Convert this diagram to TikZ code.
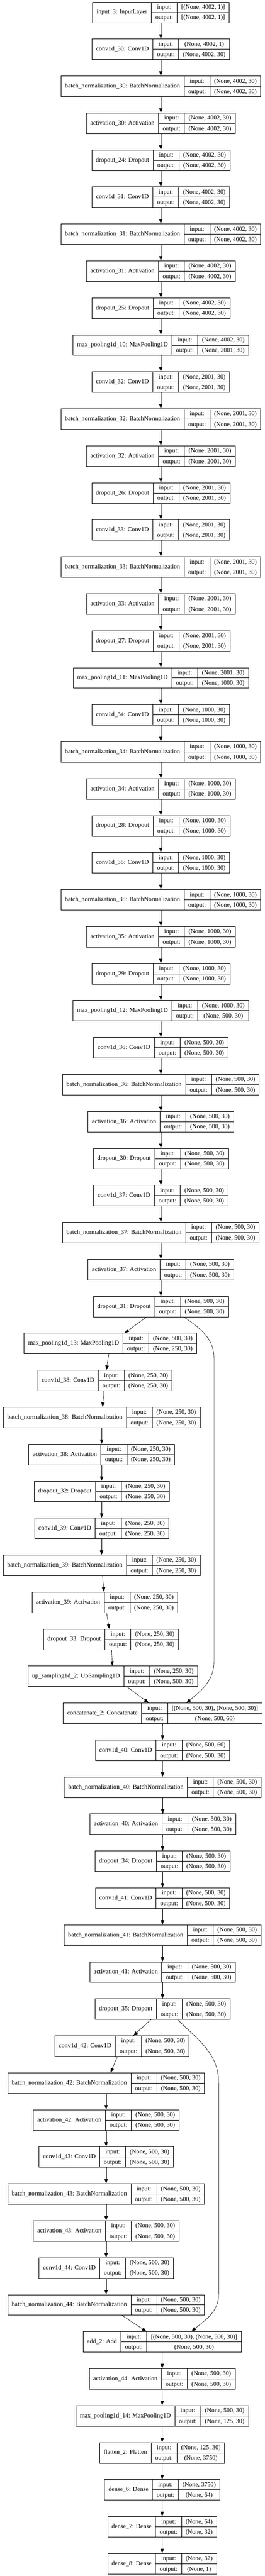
\documentclass[tikz,border=0pt]{standalone}
\usepackage{fontspec}
\setmainfont{Liberation Serif}
\usetikzlibrary{arrows.meta,calc}

\newlength{\padx}\setlength{\padx}{9pt}
\setlength{\arrayrulewidth}{0.75pt}
\newcommand{\rstrut}{\rule[-7pt]{0pt}{22.7pt}}
\newcommand{\rec}[3]{%
  \begin{tabular}{@{\hspace{\padx}}c@{\hspace{\padx}}|@{}c@{}}
    #1 &
    \begin{tabular}{@{\hspace{\padx}}c@{\hspace{\padx}}|@{\hspace{\padx}}c@{\hspace{\padx}}}
      \rstrut input: & #2\\\hline
      \rstrut output: & #3
    \end{tabular}
  \end{tabular}}
\tikzset{layer/.style={draw,inner sep=0pt,font=\fontsize{14pt}{16pt}\selectfont}}

\begin{document}
\begin{tikzpicture}[x=0.75pt,y=-82.995pt,line width=0.75pt,>={Triangle[length=10pt,width=7.5pt]}]
    \useasboundingbox (0,-0.3326) rectangle (791,69.3326);
    \node[layer] (inp) at (481,0) {\rec{input\_3: InputLayer}{[(None, 4002, 1)]}{[(None, 4002, 1)]}};
    \node[layer] (c30) at (481,1) {\rec{conv1d\_30: Conv1D}{(None, 4002, 1)}{(None, 4002, 30)}}
    edge[<-] (inp);
    \node[layer] (bn30) at (481,2) {\rec{batch\_normalization\_30: BatchNormalization}{(None, 4002, 30)}{(None, 4002, 30)}}
    edge[<-] (c30);
    \node[layer] (a30) at (481,3) {\rec{activation\_30: Activation}{(None, 4002, 30)}{(None, 4002, 30)}}
    edge[<-] (bn30);
    \node[layer] (d24) at (481,4) {\rec{dropout\_24: Dropout}{(None, 4002, 30)}{(None, 4002, 30)}}
    edge[<-] (a30);
    \node[layer] (c31) at (481,5) {\rec{conv1d\_31: Conv1D}{(None, 4002, 30)}{(None, 4002, 30)}}
    edge[<-] (d24);
    \node[layer] (bn31) at (481,6) {\rec{batch\_normalization\_31: BatchNormalization}{(None, 4002, 30)}{(None, 4002, 30)}}
    edge[<-] (c31);
    \node[layer] (a31) at (481,7) {\rec{activation\_31: Activation}{(None, 4002, 30)}{(None, 4002, 30)}}
    edge[<-] (bn31);
    \node[layer] (d25) at (481,8) {\rec{dropout\_25: Dropout}{(None, 4002, 30)}{(None, 4002, 30)}}
    edge[<-] (a31);
    \node[layer] (mp10) at (481,9) {\rec{max\_pooling1d\_10: MaxPooling1D}{(None, 4002, 30)}{(None, 2001, 30)}}
    edge[<-] (d25);
    \node[layer] (c32) at (481,10) {\rec{conv1d\_32: Conv1D}{(None, 2001, 30)}{(None, 2001, 30)}}
    edge[<-] (mp10);
    \node[layer] (bn32) at (481,11) {\rec{batch\_normalization\_32: BatchNormalization}{(None, 2001, 30)}{(None, 2001, 30)}}
    edge[<-] (c32);
    \node[layer] (a32) at (481,12) {\rec{activation\_32: Activation}{(None, 2001, 30)}{(None, 2001, 30)}}
    edge[<-] (bn32);
    \node[layer] (d26) at (481,13) {\rec{dropout\_26: Dropout}{(None, 2001, 30)}{(None, 2001, 30)}}
    edge[<-] (a32);
    \node[layer] (c33) at (481,14) {\rec{conv1d\_33: Conv1D}{(None, 2001, 30)}{(None, 2001, 30)}}
    edge[<-] (d26);
    \node[layer] (bn33) at (481,15) {\rec{batch\_normalization\_33: BatchNormalization}{(None, 2001, 30)}{(None, 2001, 30)}}
    edge[<-] (c33);
    \node[layer] (a33) at (481,16) {\rec{activation\_33: Activation}{(None, 2001, 30)}{(None, 2001, 30)}}
    edge[<-] (bn33);
    \node[layer] (d27) at (481,17) {\rec{dropout\_27: Dropout}{(None, 2001, 30)}{(None, 2001, 30)}}
    edge[<-] (a33);
    \node[layer] (mp11) at (481,18) {\rec{max\_pooling1d\_11: MaxPooling1D}{(None, 2001, 30)}{(None, 1000, 30)}}
    edge[<-] (d27);
    \node[layer] (c34) at (481,19) {\rec{conv1d\_34: Conv1D}{(None, 1000, 30)}{(None, 1000, 30)}}
    edge[<-] (mp11);
    \node[layer] (bn34) at (481,20) {\rec{batch\_normalization\_34: BatchNormalization}{(None, 1000, 30)}{(None, 1000, 30)}}
    edge[<-] (c34);
    \node[layer] (a34) at (481,21) {\rec{activation\_34: Activation}{(None, 1000, 30)}{(None, 1000, 30)}}
    edge[<-] (bn34);
    \node[layer] (d28) at (481,22) {\rec{dropout\_28: Dropout}{(None, 1000, 30)}{(None, 1000, 30)}}
    edge[<-] (a34);
    \node[layer] (c35) at (481,23) {\rec{conv1d\_35: Conv1D}{(None, 1000, 30)}{(None, 1000, 30)}}
    edge[<-] (d28);
    \node[layer] (bn35) at (481,24) {\rec{batch\_normalization\_35: BatchNormalization}{(None, 1000, 30)}{(None, 1000, 30)}}
    edge[<-] (c35);
    \node[layer] (a35) at (481,25) {\rec{activation\_35: Activation}{(None, 1000, 30)}{(None, 1000, 30)}}
    edge[<-] (bn35);
    \node[layer] (d29) at (481,26) {\rec{dropout\_29: Dropout}{(None, 1000, 30)}{(None, 1000, 30)}}
    edge[<-] (a35);
    \node[layer] (mp12) at (481,27) {\rec{max\_pooling1d\_12: MaxPooling1D}{(None, 1000, 30)}{(None, 500, 30)}}
    edge[<-] (d29);
    \node[layer] (c36) at (481,28) {\rec{conv1d\_36: Conv1D}{(None, 500, 30)}{(None, 500, 30)}}
    edge[<-] (mp12);
    \node[layer] (bn36) at (481,29) {\rec{batch\_normalization\_36: BatchNormalization}{(None, 500, 30)}{(None, 500, 30)}}
    edge[<-] (c36);
    \node[layer] (a36) at (481,30) {\rec{activation\_36: Activation}{(None, 500, 30)}{(None, 500, 30)}}
    edge[<-] (bn36);
    \node[layer] (d30) at (481,31) {\rec{dropout\_30: Dropout}{(None, 500, 30)}{(None, 500, 30)}}
    edge[<-] (a36);
    \node[layer] (c37) at (481,32) {\rec{conv1d\_37: Conv1D}{(None, 500, 30)}{(None, 500, 30)}}
    edge[<-] (d30);
    \node[layer] (bn37) at (481,33) {\rec{batch\_normalization\_37: BatchNormalization}{(None, 500, 30)}{(None, 500, 30)}}
    edge[<-] (c37);
    \node[layer] (a37) at (481,34) {\rec{activation\_37: Activation}{(None, 500, 30)}{(None, 500, 30)}}
    edge[<-] (bn37);
    \node[layer] (d31) at (481,35) {\rec{dropout\_31: Dropout}{(None, 500, 30)}{(None, 500, 30)}}
    edge[<-] (a37);
    \node[layer] (mp13) at (330,36) {\rec{max\_pooling1d\_13: MaxPooling1D}{(None, 500, 30)}{(None, 250, 30)}}
    edge[<-] (d31);
    \node[layer] (c38) at (313.5,37) {\rec{conv1d\_38: Conv1D}{(None, 250, 30)}{(None, 250, 30)}}
    edge[<-] (mp13);
    \node[layer] (bn38) at (304,38) {\rec{batch\_normalization\_38: BatchNormalization}{(None, 250, 30)}{(None, 250, 30)}}
    edge[<-] (c38);
    \node[layer] (a38) at (304,39) {\rec{activation\_38: Activation}{(None, 250, 30)}{(None, 250, 30)}}
    edge[<-] (bn38);
    \node[layer] (d32) at (304,40) {\rec{dropout\_32: Dropout}{(None, 250, 30)}{(None, 250, 30)}}
    edge[<-] (a38);
    \node[layer] (c39) at (304,41) {\rec{conv1d\_39: Conv1D}{(None, 250, 30)}{(None, 250, 30)}}
    edge[<-] (d32);
    \node[layer] (bn39) at (304,42) {\rec{batch\_normalization\_39: BatchNormalization}{(None, 250, 30)}{(None, 250, 30)}}
    edge[<-] (c39);
    \node[layer] (a39) at (313.5,43) {\rec{activation\_39: Activation}{(None, 250, 30)}{(None, 250, 30)}}
    edge[<-] (bn39);
    \node[layer] (d33) at (332,44) {\rec{dropout\_33: Dropout}{(None, 250, 30)}{(None, 250, 30)}}
    edge[<-] (a39);
    \node[layer] (up2) at (337.5,45) {\rec{up\_sampling1d\_2: UpSampling1D}{(None, 250, 30)}{(None, 500, 30)}}
    edge[<-] (d33);
    \node[layer] (cat2) at (486.5,46) {\rec{concatenate\_2: Concatenate}{[(None, 500, 30), (None, 500, 30)]}{(None, 500, 60)}}
    edge[<-] (up2);
    \draw[->] ($(d31.south)+(69,0)$) to[out=-35,in=90] (640,36.4) -- (640,44.6) to[out=-90,in=40] ($(cat2.north)+(71.5,0)$);
    \node[layer] (c40) at (486,47) {\rec{conv1d\_40: Conv1D}{(None, 500, 60)}{(None, 500, 30)}}
    edge[<-] (cat2);
    \node[layer] (bn40) at (486.5,48) {\rec{batch\_normalization\_40: BatchNormalization}{(None, 500, 30)}{(None, 500, 30)}}
    edge[<-] (c40);
    \node[layer] (a40) at (486.5,49) {\rec{activation\_40: Activation}{(None, 500, 30)}{(None, 500, 30)}}
    edge[<-] (bn40);
    \node[layer] (d34) at (486,50) {\rec{dropout\_34: Dropout}{(None, 500, 30)}{(None, 500, 30)}}
    edge[<-] (a40);
    \node[layer] (c41) at (486,51) {\rec{conv1d\_41: Conv1D}{(None, 500, 30)}{(None, 500, 30)}}
    edge[<-] (d34);
    \node[layer] (bn41) at (486,52) {\rec{batch\_normalization\_41: BatchNormalization}{(None, 500, 30)}{(None, 500, 30)}}
    edge[<-] (c41);
    \node[layer] (a41) at (486,53) {\rec{activation\_41: Activation}{(None, 500, 30)}{(None, 500, 30)}}
    edge[<-] (bn41);
    \node[layer] (d35) at (486,54) {\rec{dropout\_35: Dropout}{(None, 500, 30)}{(None, 500, 30)}}
    edge[<-] (a41);
    \node[layer] (c42) at (364.6,55) {\rec{conv1d\_42: Conv1D}{(None, 500, 30)}{(None, 500, 30)}}
    edge[<-] (d35);
    \node[layer] (bn42) at (317.4,56) {\rec{batch\_normalization\_42: BatchNormalization}{(None, 500, 30)}{(None, 500, 30)}}
    edge[<-] (c42);
    \node[layer] (a42) at (317.4,57) {\rec{activation\_42: Activation}{(None, 500, 30)}{(None, 500, 30)}}
    edge[<-] (bn42);
    \node[layer] (c43) at (317.4,58) {\rec{conv1d\_43: Conv1D}{(None, 500, 30)}{(None, 500, 30)}}
    edge[<-] (a42);
    \node[layer] (bn43) at (317.4,59) {\rec{batch\_normalization\_43: BatchNormalization}{(None, 500, 30)}{(None, 500, 30)}}
    edge[<-] (c43);
    \node[layer] (a43) at (317.4,60) {\rec{activation\_43: Activation}{(None, 500, 30)}{(None, 500, 30)}}
    edge[<-] (bn43);
    \node[layer] (c44) at (317.4,61) {\rec{conv1d\_44: Conv1D}{(None, 500, 30)}{(None, 500, 30)}}
    edge[<-] (a43);
    \node[layer] (bn44) at (317.4,62) {\rec{batch\_normalization\_44: BatchNormalization}{(None, 500, 30)}{(None, 500, 30)}}
    edge[<-] (c44);
    \node[layer] (add2) at (485,63) {\rec{add\_2: Add}{[(None, 500, 30), (None, 500, 30)]}{(None, 500, 30)}}
    edge[<-] (bn44);
    \draw[->] ($(d35.south)+(45,0)$) to[out=-45,in=90] (654,56.0) -- (654,61.7) to[out=-90,in=40] ($(add2.north)+(88,0)$);
    \node[layer] (a44) at (485,64) {\rec{activation\_44: Activation}{(None, 500, 30)}{(None, 500, 30)}}
    edge[<-] (add2);
    \node[layer] (mp14) at (485,65) {\rec{max\_pooling1d\_14: MaxPooling1D}{(None, 500, 30)}{(None, 125, 30)}}
    edge[<-] (a44);
    \node[layer] (fl2) at (485,66) {\rec{flatten\_2: Flatten}{(None, 125, 30)}{(None, 3750)}}
    edge[<-] (mp14);
    \node[layer] (de6) at (485,67) {\rec{dense\_6: Dense}{(None, 3750)}{(None, 64)}}
    edge[<-] (fl2);
    \node[layer] (de7) at (485,68) {\rec{dense\_7: Dense}{(None, 64)}{(None, 32)}}
    edge[<-] (de6);
    \node[layer] (de8) at (485,69) {\rec{dense\_8: Dense}{(None, 32)}{(None, 1)}}
    edge[<-] (de7);
\end{tikzpicture}
\end{document}
